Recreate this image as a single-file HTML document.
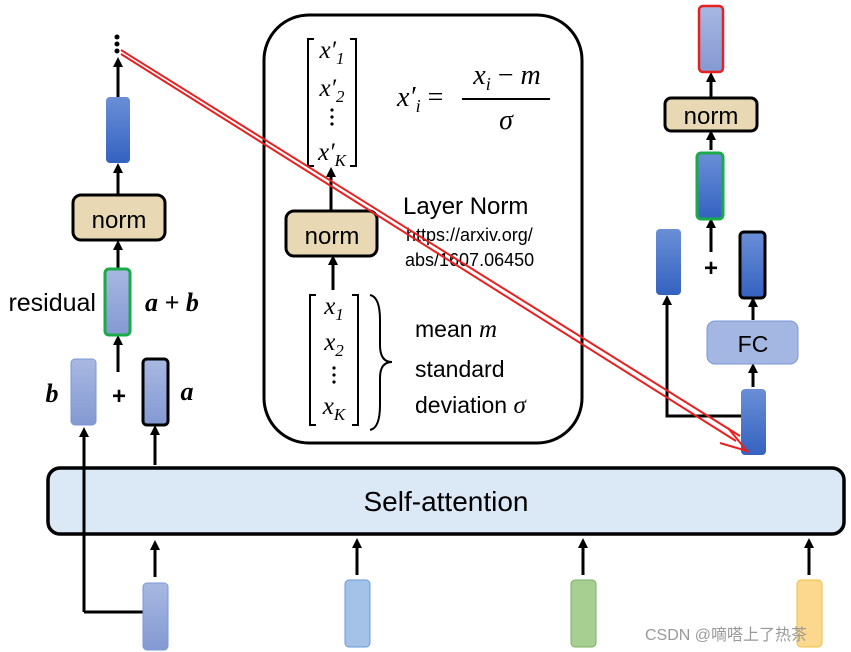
<!DOCTYPE html>
<html><head><meta charset="utf-8"><style>
html,body{margin:0;padding:0;background:#fff;}
svg{display:block}
.s{font-family:"Liberation Sans",sans-serif}
.m{font-family:"Liberation Serif",serif;font-style:italic}
</style></head><body>
<svg width="851" height="652" viewBox="0 0 851 652" xmlns="http://www.w3.org/2000/svg">
<defs>
<marker id="ah" markerWidth="10" markerHeight="10" refX="5" refY="5" orient="auto" markerUnits="userSpaceOnUse" viewBox="0 0 10 10"><path d="M0,0 L10,5 L0,10 z" fill="#000"/></marker>
<linearGradient id="db" x1="0" y1="0" x2="0" y2="1"><stop offset="0" stop-color="#6a8fd6"/><stop offset="1" stop-color="#3462c0"/></linearGradient>
<linearGradient id="lb" x1="0" y1="0" x2="0" y2="1"><stop offset="0" stop-color="#a8b8e2"/><stop offset="1" stop-color="#8499d2"/></linearGradient>
</defs>
<!-- self-attention -->
<rect x="48" y="468" width="796" height="66" rx="12" fill="#dbe8f6" stroke="#000" stroke-width="3.5"/>
<text x="446" y="511" class="s" font-size="28" text-anchor="middle">Self-attention</text>
<g stroke="#000" stroke-width="3" fill="none">
<path d="M118 97 V62" marker-end="url(#ah)"/>
<path d="M118 195 V168" marker-end="url(#ah)"/>
<path d="M118 268 V245" marker-end="url(#ah)"/>
<path d="M118 372 V340" marker-end="url(#ah)"/>
<path d="M84 612 V432" marker-end="url(#ah)"/>
<path d="M84 612 H143"/>
<path d="M155 465 V430" marker-end="url(#ah)"/>
<path d="M155 577 V545" marker-end="url(#ah)"/>
<path d="M357 575 V543" marker-end="url(#ah)"/>
<path d="M583 575 V543" marker-end="url(#ah)"/>
<path d="M809 575 V543" marker-end="url(#ah)"/>
<path d="M331 210 V172" marker-end="url(#ah)"/>
<path d="M333 290 V260" marker-end="url(#ah)"/>
<path d="M711 98 V77" marker-end="url(#ah)"/>
<path d="M711 150 V135" marker-end="url(#ah)"/>
<path d="M711 252 V223" marker-end="url(#ah)"/>
<path d="M753 320 V302" marker-end="url(#ah)"/>
<path d="M753 387 V368" marker-end="url(#ah)"/>
<path d="M741 416 H667 V300" marker-end="url(#ah)"/>
</g>
<circle cx="117" cy="37" r="2.5"/><circle cx="117" cy="44" r="2.5"/><circle cx="117" cy="51" r="2.5"/>
<rect x="106" y="97" width="24" height="66" rx="4" fill="url(#db)"/>
<rect x="73" y="195" width="92" height="45" rx="8" fill="#e8d8b4" stroke="#000" stroke-width="3"/>
<text x="119" y="228" class="s" font-size="24" text-anchor="middle">norm</text>
<rect x="105" y="269" width="25" height="66" rx="4" fill="url(#lb)" stroke="#1aaa4a" stroke-width="3"/>
<text x="96" y="311" class="s" font-size="25" text-anchor="end">residual</text>
<text x="145" y="311" class="m" font-size="26" font-weight="bold">a + b</text>
<rect x="71" y="359" width="25" height="66" rx="4" fill="url(#lb)" stroke="#7a96d8" stroke-width="1"/>
<rect x="143" y="359" width="25" height="66" rx="4" fill="url(#lb)" stroke="#000" stroke-width="3"/>
<text x="52" y="402" class="m" font-size="26" font-weight="bold" text-anchor="middle">b</text>
<text x="187" y="400" class="m" font-size="26" font-weight="bold" text-anchor="middle">a</text>
<text x="119" y="404" class="s" font-size="24" font-weight="bold" text-anchor="middle">+</text>
<rect x="264" y="15" width="318" height="428" rx="45" fill="none" stroke="#000" stroke-width="3"/>
<g stroke="#000" stroke-width="2" fill="none">
<path d="M314 39 H308 V166 H314"/><path d="M350 39 H356 V166 H350"/>
<path d="M316 295 H310 V425 H316"/><path d="M352 295 H358 V425 H352"/>
<path d="M370 295 Q380 297 380 320 V345 Q380 362 392 362 Q380 362 380 378 V405 Q380 428 370 430"/>
</g>
<g fill="#000">
<circle cx="332" cy="110" r="1.6"/><circle cx="332" cy="117" r="1.6"/><circle cx="332" cy="124" r="1.6"/>
<circle cx="334" cy="368" r="1.6"/><circle cx="334" cy="375" r="1.6"/><circle cx="334" cy="382" r="1.6"/>
</g>
<g class="m" font-size="25" text-anchor="middle">
<text x="332" y="58">x′<tspan font-size="17" dy="6">1</tspan></text>
<text x="332" y="96">x′<tspan font-size="17" dy="6">2</tspan></text>
<text x="332" y="160">x′<tspan font-size="17" dy="6">K</tspan></text>
<text x="334" y="314">x<tspan font-size="17" dy="6">1</tspan></text>
<text x="334" y="350">x<tspan font-size="17" dy="6">2</tspan></text>
<text x="334" y="414">x<tspan font-size="17" dy="6">K</tspan></text>
</g>
<text x="397" y="106" class="m" font-size="28">x′<tspan font-size="18" dy="6">i</tspan><tspan dy="-6" font-style="normal"> = </tspan></text>
<text x="507" y="84" class="m" font-size="28" text-anchor="middle">x<tspan font-size="18" dy="6">i</tspan><tspan dy="-6" font-style="normal"> − </tspan>m</text>
<line x1="462" y1="99" x2="550" y2="99" stroke="#000" stroke-width="2"/>
<text x="506" y="129" class="m" font-size="28" text-anchor="middle">σ</text>
<rect x="286" y="211" width="91" height="45" rx="8" fill="#e8d8b4" stroke="#000" stroke-width="3"/>
<text x="332" y="244" class="s" font-size="24" text-anchor="middle">norm</text>
<text x="403" y="214" class="s" font-size="24">Layer Norm</text>
<text x="406" y="241" class="s" font-size="18">https://arxiv.org/</text>
<text x="405" y="266" class="s" font-size="18">abs/1607.06450</text>
<text x="415" y="337" class="s" font-size="23">mean <tspan class="m" font-size="25">m</tspan></text>
<text x="415" y="377" class="s" font-size="23">standard</text>
<text x="415" y="413" class="s" font-size="23">deviation <tspan class="m" font-size="25">σ</tspan></text>
<rect x="699" y="6" width="24" height="66" rx="4" fill="url(#lb)" stroke="#e82020" stroke-width="2.5"/>
<rect x="665" y="98" width="92" height="33" rx="6" fill="#e8d8b4" stroke="#000" stroke-width="3"/>
<text x="711" y="124" class="s" font-size="24" text-anchor="middle">norm</text>
<rect x="697" y="153" width="26" height="66" rx="4" fill="url(#db)" stroke="#1aaa4a" stroke-width="3"/>
<text x="711" y="276" class="s" font-size="24" font-weight="bold" text-anchor="middle">+</text>
<rect x="656" y="229" width="25" height="66" rx="4" fill="url(#db)"/>
<rect x="740" y="232" width="25" height="66" rx="4" fill="url(#db)" stroke="#000" stroke-width="3"/>
<rect x="707" y="321" width="91" height="43" rx="8" fill="#a4b6e2" stroke="#7a96d8" stroke-width="1"/>
<text x="753" y="352" class="s" font-size="23" text-anchor="middle">FC</text>
<rect x="741" y="389" width="25" height="66" rx="4" fill="url(#db)"/>
<rect x="143" y="583" width="25" height="67" rx="4" fill="url(#lb)" stroke="#7a96d8"/>
<rect x="345" y="580" width="25" height="67" rx="4" fill="#a4c2e8" stroke="#6a9ad8"/>
<rect x="571" y="580" width="25" height="67" rx="4" fill="#a8cf92" stroke="#7ab060"/>
<rect x="797" y="580" width="25" height="67" rx="4" fill="#fcd88e" stroke="#f0c040"/>
<g stroke="#e82020" stroke-width="2" fill="none">
<path d="M121 50 L740 436"/>
<path d="M121 54 L736 441"/>
<path d="M728 428 L747 451 L720 443"/>
</g>
<text x="645" y="640" font-family="'Liberation Sans','Noto Sans CJK SC',sans-serif" font-size="16" fill="#999">CSDN @嘀嗒上了热茶</text>
</svg>
</body></html>
